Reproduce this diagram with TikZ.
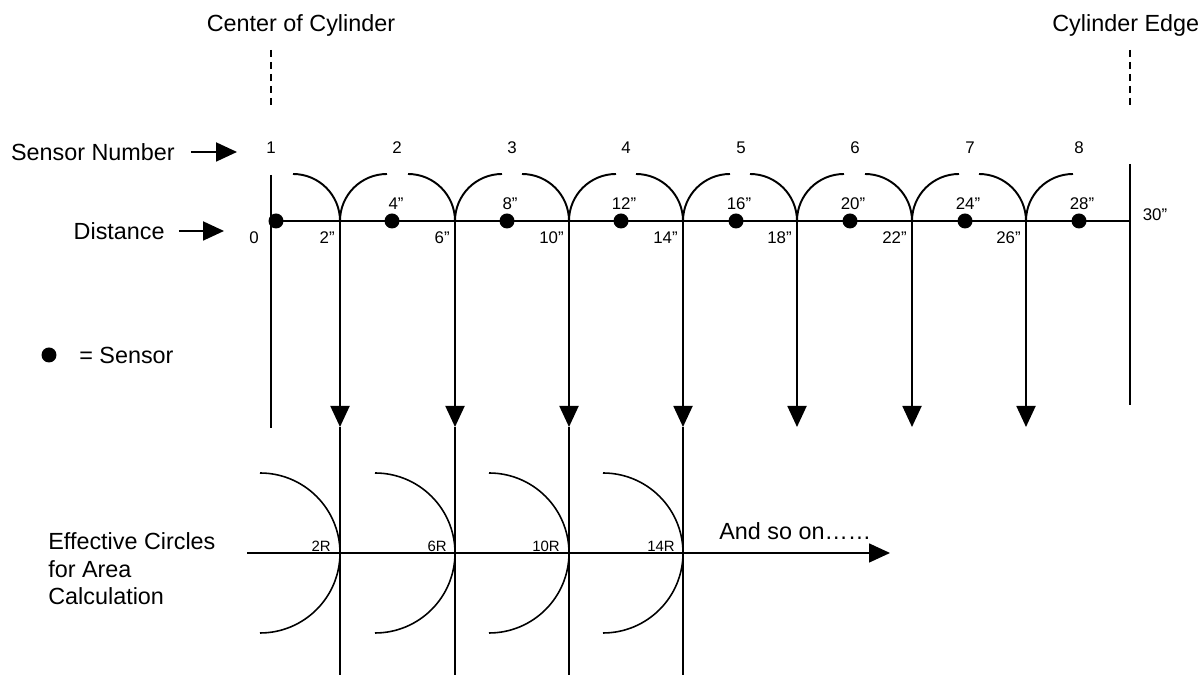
\documentclass[tikz,border=0pt]{standalone}
\usepackage{fontspec}
\setmainfont{Liberation Sans}
\usetikzlibrary{arrows.meta}

\tikzset{
  bigtext/.style={font=\fontsize{13.3}{15.6}\selectfont, inner sep=0pt},
  numtext/.style={font=\fontsize{9.6}{11}\selectfont, inner sep=0pt},
  rtext/.style={font=\fontsize{8.5}{10}\selectfont, inner sep=0pt},
  axisline/.style={line width=1.1pt},
  botline/.style={line width=0.9pt},
  dashline/.style={line width=0.85pt, dash pattern=on 0.14cm off 0.1cm},
  downtip/.style={-{Triangle[length=0.42cm,width=0.38cm]}},
  sensordot/.style={circle, fill, inner sep=0pt, minimum size=0.3cm},
}

\begin{document}
\begin{tikzpicture}[x=0.02cm,y=0.02cm]
\useasboundingbox (0,0) rectangle (1204,675);

% headings and dashed markers
\node[bigtext] (center) at (301,650) {Center of Cylinder};
\node[bigtext,anchor=west] (edge) at (1052,650) {Cylinder Edge};
\coordinate (ctop) at (271,625);
\coordinate (cbot) at (271,568);
\coordinate (etop) at (1130,625);
\coordinate (ebot) at (1130,568);
\draw[dashline] (ctop) -- (cbot);
\draw[dashline] (etop) -- (ebot);

%-------------------------------------
% left labels
\node[bigtext,anchor=east] (snum) at (175,523) {Sensor Number};
\coordinate (snumend) at (237,523);
\draw[axisline,downtip,shorten <=0.32cm] (snum.east) -- (snumend);
\node[bigtext,anchor=east] (dist) at (165,444) {Distance};
\coordinate (distend) at (224,444);
\draw[axisline,downtip,shorten <=0.28cm] (dist.east) -- (distend);
\node[sensordot] (key) at (49,320) {};
\node[bigtext,anchor=west] (keytext) at (79,320) {= Sensor};

%-------------------------------------
% sensor numbers
\node[numtext] (s1) at (271,527) {1};
\node[numtext] (s2) at (397,527) {2};
\node[numtext] (s3) at (512,527) {3};
\node[numtext] (s4) at (626,527) {4};
\node[numtext] (s5) at (741,527) {5};
\node[numtext] (s6) at (855,527) {6};
\node[numtext] (s7) at (970,527) {7};
\node[numtext] (s8) at (1079,527) {8};

% axis and walls
\coordinate (o) at (271,454);
\coordinate (e) at (1130,454);
\draw[axisline] (o) -- (e);
\draw[axisline] (271,500) -- (271,247);
\draw[axisline] (1130,511) -- (1130,270);

% arcs round each boundary
\draw[axisline] (293,501) arc[start angle=90,end angle=0,radius=47] arc[start angle=180,end angle=90,radius=47];
\draw[axisline] (408,501) arc[start angle=90,end angle=0,radius=47] arc[start angle=180,end angle=90,radius=47];
\draw[axisline] (522,501) arc[start angle=90,end angle=0,radius=47] arc[start angle=180,end angle=90,radius=47];
\draw[axisline] (636,501) arc[start angle=90,end angle=0,radius=47] arc[start angle=180,end angle=90,radius=47];
\draw[axisline] (750,501) arc[start angle=90,end angle=0,radius=47] arc[start angle=180,end angle=90,radius=47];
\draw[axisline] (865,501) arc[start angle=90,end angle=0,radius=47] arc[start angle=180,end angle=90,radius=47];
\draw[axisline] (979,501) arc[start angle=90,end angle=0,radius=47] arc[start angle=180,end angle=90,radius=47];

% sensors
\node[sensordot] (d1) at (276,454) {};
\node[sensordot] (d2) at (392,454) {};
\node[sensordot] (d3) at (507,454) {};
\node[sensordot] (d4) at (621,454) {};
\node[sensordot] (d5) at (736,454) {};
\node[sensordot] (d6) at (850,454) {};
\node[sensordot] (d7) at (965,454) {};
\node[sensordot] (d8) at (1079,454) {};

% distances
\node[numtext] (l4) at (396,471) {4”};
\node[numtext] (l8) at (510,471) {8”};
\node[numtext] (l12) at (624,471) {12”};
\node[numtext] (l16) at (739,471) {16”};
\node[numtext] (l20) at (853,471) {20”};
\node[numtext] (l24) at (968,471) {24”};
\node[numtext] (l28) at (1082,471) {28”};
\node[numtext,anchor=east] (l0) at (259,437) {0};
\node[numtext,anchor=east] (l2) at (335,437) {2”};
\node[numtext,anchor=east] (l6) at (450,437) {6”};
\node[numtext,anchor=east] (l10) at (564,437) {10”};
\node[numtext,anchor=east] (l14) at (678,437) {14”};
\node[numtext,anchor=east] (l18) at (792,437) {18”};
\node[numtext,anchor=east] (l22) at (907,437) {22”};
\node[numtext,anchor=east] (l26) at (1021,437) {26”};
\node[numtext] (l30) at (1155,460) {30”};

%-------------------------------------
% drop lines
\coordinate (c1) at (340,454); \coordinate (t1) at (340,248); \coordinate (b1) at (340,0);
\coordinate (c2) at (455,454); \coordinate (t2) at (455,248); \coordinate (b2) at (455,0);
\coordinate (c3) at (569,454); \coordinate (t3) at (569,248); \coordinate (b3) at (569,0);
\coordinate (c4) at (683,454); \coordinate (t4) at (683,248); \coordinate (b4) at (683,0);
\coordinate (c5) at (797,454); \coordinate (t5) at (797,248);
\coordinate (c6) at (912,454); \coordinate (t6) at (912,248);
\coordinate (c7) at (1026,454); \coordinate (t7) at (1026,248);
\draw[axisline,downtip] (c1) -- (t1);
\draw[axisline,downtip] (c2) -- (t2);
\draw[axisline,downtip] (c3) -- (t3);
\draw[axisline,downtip] (c4) -- (t4);
\draw[axisline,downtip] (c5) -- (t5);
\draw[axisline,downtip] (c6) -- (t6);
\draw[axisline,downtip] (c7) -- (t7);
\draw[botline] (t1) -- (b1);
\draw[botline] (t2) -- (b2);
\draw[botline] (t3) -- (b3);
\draw[botline] (t4) -- (b4);

%-------------------------------------
% effective circles
\node[bigtext,anchor=west,align=left] (eff) at (48,106) {Effective Circles\\for Area\\Calculation};
\coordinate (bstart) at (247,122);
\coordinate (bend) at (890,122);
\draw[botline,downtip] (bstart) -- (bend);
\draw[botline] (260,202) arc[start angle=90,end angle=-90,radius=80];
\draw[botline] (375,202) arc[start angle=90,end angle=-90,radius=80];
\draw[botline] (489,202) arc[start angle=90,end angle=-90,radius=80];
\draw[botline] (603,202) arc[start angle=90,end angle=-90,radius=80];
\node[rtext,anchor=base east] (r2) at (331,123) {2R};
\node[rtext,anchor=base east] (r6) at (447,123) {6R};
\node[rtext,anchor=base east] (r10) at (560,123) {10R};
\node[rtext,anchor=base east] (r14) at (675,123) {14R};
\node[bigtext,anchor=base west] (more) at (719,135) {And so on……};
\end{tikzpicture}
\end{document}
